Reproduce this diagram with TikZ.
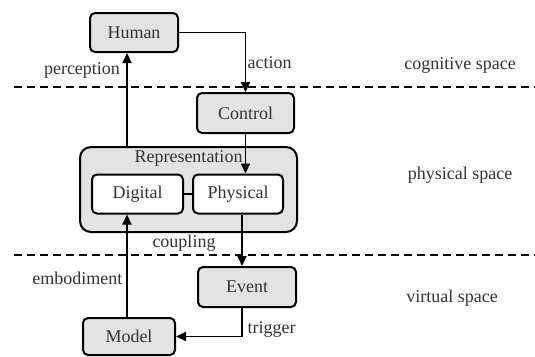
\documentclass[tikz,border=0pt]{standalone}
\usepackage{fontspec}
\setmainfont{Liberation Serif}
\usepackage{tikz}
\usetikzlibrary{arrows.meta,calc,positioning}

\begin{document}
\begin{tikzpicture}[x=1pt,y=-1pt,
    every node/.style={font=\fontsize{18}{21}\selectfont, text=black!80},
    blockbox/.style={draw, line width=2pt, rounded corners=5pt, fill=gray!22, inner sep=0pt},
    innerbox/.style={blockbox, fill=white},
    arr/.style={-{Triangle[length=10pt,width=9pt]}, line width=1.8pt},
    sep/.style={dashed, dash pattern=on 8pt off 5pt, line width=1.4pt}]
    \useasboundingbox (0,0) rectangle (535,356);

    % boxes
    \node[blockbox, minimum width=88pt, minimum height=39pt] (human) at (134,32.5) {Human};
    \node[blockbox, minimum width=97pt, minimum height=40pt] (ctl) at (245.5,113) {Control};
    \node[blockbox, rounded corners=11pt, minimum width=217pt, minimum height=85pt] (rep) at (188.5,189.5) {};
    \node[below=1pt of rep.north] (reptext) {Representation};
    \node[innerbox, minimum width=91pt, minimum height=39pt] (dig) at (137.5,194) {Digital};
    \node[innerbox, minimum width=90pt, minimum height=39pt] (phy) at (238,194) {Physical};
    \node[blockbox, minimum width=98pt, minimum height=40pt] (evt) at (247,287) {Event};
    \node[blockbox, minimum width=92pt, minimum height=37pt] (mdl) at (129,336.5) {Model};

    \coordinate (lx) at (127,0);
    \coordinate (rx) at (242,0);

    % space borders
    \draw[sep] (14,87) -- (535,87);
    \draw[sep] (14,255) -- (535,255);
    \node (cog) at (460,65) {cognitive space};
    \node (phys) at (460,175) {physical space};
    \node (virt) at (452,298) {virtual space};

    % connectors
    \draw[arr] (lx |- rep.north) -- (lx |- human.south);
    \draw[arr] (human.east) -| (ctl.north);
    \draw[arr] (ctl.south) -- (ctl.south |- phy.north);
    \draw[line width=1.8pt] (dig.east) -- (phy.west);
    \draw[arr] (rx |- phy.south) -- (rx |- evt.north);
    \draw[arr] (rx |- evt.south) |- (mdl.east);
    \draw[arr] (lx |- mdl.north) -- (lx |- dig.south);

    \node (perc) at (82,70) {perception};
    \node[anchor=west] (act) at (244,63) {action};
    \node (coup) at (184,243) {coupling};
    \node[anchor=east] (emb) at (126,278) {embodiment};
    \node[anchor=west] (trig) at (244,329) {trigger};
\end{tikzpicture}
\end{document}
